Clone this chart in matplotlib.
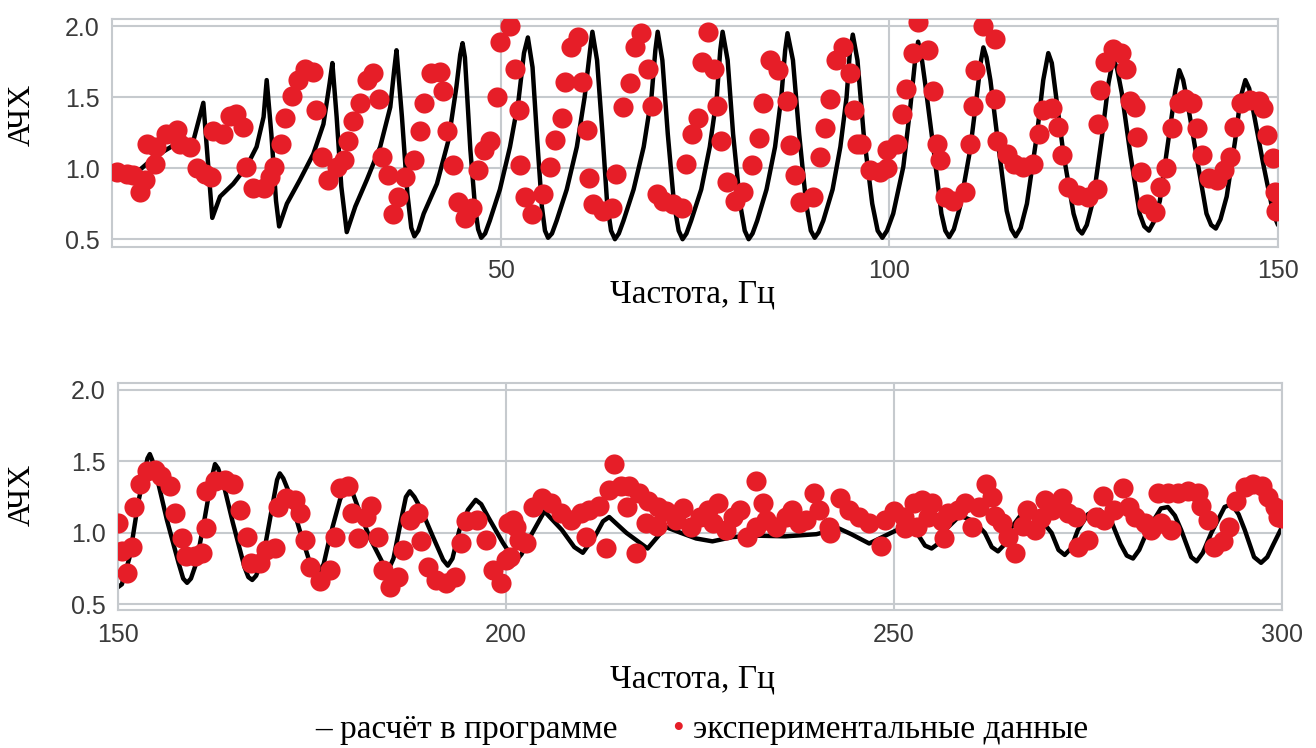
import matplotlib
matplotlib.use("Agg")
import matplotlib.pyplot as plt

# ---------------- data ----------------
# calculated response (black line), 0-150 Hz
line1_x = [0.5, 3.0, 5.5, 8.5, 10.5, 11.75, 12.9,
           13.9, 15.6, 17.3, 18.6, 19.5, 19.9, 20.5, 21.1, 21.5,
           22.5, 24.2, 25.9, 27.2, 28.0, 28.35, 28.9, 29.5, 30.2,
           31.3, 32.8, 34.5, 35.8, 36.3, 36.6, 37.3, 38.0, 38.5, 38.9,
           39.4, 40.1, 41.8, 43.3, 44.3, 44.8, 45.1, 45.4, 46.1, 46.7, 47.1, 47.5,
           48.0, 48.6, 49.9, 51.2, 52.3, 53.0, 53.5, 54.1, 54.7, 55.3, 55.7, 56.1,
           56.6, 57.2, 58.5, 59.8, 60.8, 61.5, 61.8, 62.4, 63.1, 63.7, 64.2, 64.7,
           65.2, 65.8, 67.1, 68.4, 69.4, 69.9, 70.2, 70.8, 71.5, 72.3, 72.9, 73.4,
           73.9, 74.5, 75.8, 76.9, 77.8, 78.25, 78.55, 79.2, 79.9, 80.8, 81.4, 81.9,
           82.4, 83.0, 84.2, 85.3, 86.1, 86.6, 86.9, 87.6, 88.4, 89.3, 89.9, 90.4,
           90.9, 91.5, 92.7, 93.7, 94.5, 94.9, 95.3, 95.9, 96.7, 97.8, 98.5, 99.1,
           99.7, 100.5, 101.8, 102.7, 103.3, 103.7, 104.1, 104.6, 105.7, 106.7, 107.2, 107.7,
           108.3, 109.1, 110.4, 111.3, 111.8, 112.1, 112.5, 113.0, 114.0, 115.1, 115.7, 116.25,
           116.9, 117.7, 119.0, 119.8, 120.45, 120.9, 121.3, 122.4, 123.7, 124.3, 124.8,
           125.4, 126.2, 127.3, 128.2, 128.8, 129.3, 129.9, 131.0, 132.2, 132.8, 133.4,
           134.0, 134.8, 135.9, 136.8, 137.3, 137.8, 138.3, 139.6, 140.8, 141.4, 142.0,
           142.6, 143.4, 144.5, 145.2, 145.8, 146.3, 146.8, 148.1, 149.4, 150.0]
line1_y = [0.97, 0.96, 1.08, 1.18, 1.20, 1.46, 0.65,
           0.80, 0.89, 1.01, 1.15, 1.36, 1.62, 1.24, 0.77, 0.59,
           0.75, 0.92, 1.10, 1.31, 1.60, 1.74, 1.36, 0.87, 0.55,
           0.73, 0.92, 1.15, 1.43, 1.69, 1.83, 1.36, 0.82, 0.58, 0.52,
           0.56, 0.68, 0.89, 1.20, 1.57, 1.80, 1.88, 1.78, 1.13, 0.73, 0.57, 0.51,
           0.54, 0.63, 0.85, 1.15, 1.48, 1.81, 1.92, 1.71, 1.20, 0.73, 0.56, 0.51,
           0.54, 0.63, 0.85, 1.15, 1.50, 1.83, 1.96, 1.76, 1.24, 0.75, 0.56, 0.50,
           0.54, 0.63, 0.85, 1.15, 1.50, 1.83, 1.96, 1.76, 1.24, 0.75, 0.56, 0.50,
           0.54, 0.63, 0.85, 1.15, 1.50, 1.83, 1.96, 1.76, 1.24, 0.75, 0.56, 0.50,
           0.54, 0.63, 0.85, 1.15, 1.50, 1.83, 1.95, 1.76, 1.24, 0.75, 0.56, 0.51,
           0.55, 0.63, 0.85, 1.15, 1.50, 1.80, 1.94, 1.76, 1.24, 0.75, 0.56, 0.51,
           0.56, 0.68, 1.01, 1.43, 1.75, 1.89, 1.80, 1.60, 1.13, 0.68, 0.56, 0.515,
           0.57, 0.73, 1.13, 1.53, 1.76, 1.85, 1.78, 1.62, 1.17, 0.70, 0.57, 0.52,
           0.58, 0.75, 1.24, 1.62, 1.81, 1.74, 1.57, 1.10, 0.68, 0.57, 0.54,
           0.60, 0.77, 1.20, 1.60, 1.77, 1.70, 1.53, 1.10, 0.68, 0.59, 0.56,
           0.62, 0.77, 1.20, 1.55, 1.69, 1.62, 1.48, 1.06, 0.68, 0.60, 0.575,
           0.64, 0.80, 1.20, 1.50, 1.62, 1.56, 1.41, 1.03, 0.68, 0.60]

# experimental data (red dots), 0-150 Hz
dots1_x = [0.6, 1.9, 2.7, 3.6, 4.2, 4.5, 5.5, 5.7, 7.0, 8.3, 8.7, 10.0, 10.9,
           12.0, 12.8, 13.0, 14.3, 15.2, 16.0, 16.9, 17.3, 18.2, 19.5, 20.3,
           20.8, 21.8, 22.3, 23.1, 23.9, 24.8, 25.9, 26.3, 27.0, 27.8, 28.9,
           29.8, 30.4, 31.0, 31.9, 32.8, 33.6, 34.3, 34.7, 35.5, 36.8, 36.2,
           37.7, 38.8, 39.6, 40.1, 41.1, 42.2, 42.6, 43.1, 43.9, 44.5, 45.4,
           46.3, 47.1, 47.8, 48.6, 49.5, 49.9, 51.2, 51.8, 52.3, 52.5, 53.1,
           54.0, 55.5, 56.4, 57.0, 57.9, 58.3, 59.1, 60.0, 60.4, 61.1, 61.3,
           61.9, 63.2, 64.3, 64.9, 65.8, 66.6, 67.3, 68.1, 69.0, 69.5, 70.1,
           70.9, 72.2, 73.3, 73.9, 74.6, 75.4, 75.9, 76.7, 77.4, 77.8, 78.4,
           79.1, 80.2, 81.2, 82.3, 83.2, 83.8, 84.7, 85.7, 86.8, 87.2, 87.9,
           88.5, 90.2, 91.1, 91.7, 92.4, 93.2, 94.1, 95.0, 95.4, 95.8, 96.4,
           97.5, 98.8, 99.7, 99.7, 101.0, 101.6, 102.2, 103.1, 103.7, 105.0,
           105.6, 106.1, 106.5, 107.2, 108.2, 109.7, 110.4, 110.8, 111.0,
           112.1, 113.6, 113.6, 113.8, 115.1, 116.0, 117.2, 118.5, 119.2,
           119.8, 120.9, 121.7, 122.2, 123.0, 124.3, 125.6, 126.7, 126.9,
           127.1, 127.8, 128.8, 129.8, 130.4, 130.9, 131.6, 131.8, 132.4,
           133.1, 134.2, 134.8, 135.6, 136.3, 137.2, 138.1, 138.9, 139.6,
           140.2, 141.1, 142.1, 143.0, 143.8, 144.4, 145.3, 146.4, 147.5,
           148.1, 148.6, 149.4, 149.6, 149.8]
dots1_y = [0.97, 0.96, 0.95, 0.83, 0.92, 1.17, 1.03, 1.15, 1.24, 1.27, 1.17, 1.15, 1.00,
           0.96, 0.94, 1.26, 1.24, 1.37, 1.38, 1.29, 1.01, 0.86, 0.86, 0.94,
           1.01, 1.17, 1.35, 1.51, 1.62, 1.70, 1.68, 1.41, 1.08, 0.92, 1.01,
           1.06, 1.19, 1.33, 1.46, 1.62, 1.67, 1.49, 1.08, 0.95, 0.80, 0.68,
           0.94, 1.06, 1.26, 1.46, 1.67, 1.68, 1.54, 1.26, 1.02, 0.76, 0.65,
           0.72, 0.99, 1.13, 1.19, 1.50, 1.89, 2.00, 1.70, 1.41, 1.02, 0.80,
           0.68, 0.82, 1.01, 1.20, 1.35, 1.61, 1.85, 1.92, 1.61, 1.27, 0.93,
           0.75, 0.70, 0.72, 0.96, 1.43, 1.60, 1.85, 1.95, 1.70, 1.44, 0.82,
           0.77, 0.75, 0.72, 1.03, 1.24, 1.35, 1.75, 1.96, 1.70, 1.44, 1.19,
           0.90, 0.77, 0.83, 1.02, 1.21, 1.46, 1.76, 1.69, 1.47, 1.16, 0.95,
           0.76, 0.80, 1.08, 1.28, 1.49, 1.76, 1.85, 1.67, 1.41, 1.17, 1.17,
           0.99, 0.97, 1.00, 1.13, 1.17, 1.38, 1.56, 1.81, 2.03, 1.83,
           1.54, 1.17, 1.06, 0.80, 0.77, 0.83, 1.17, 1.44, 1.69,
           2.00, 1.91, 1.49, 1.19, 1.10, 1.03, 1.01, 1.03, 1.24,
           1.41, 1.42, 1.29, 1.09, 0.87, 0.81, 0.80, 0.85, 1.31,
           1.55, 1.75, 1.84, 1.81, 1.70, 1.47, 1.43, 1.22, 0.97,
           0.75, 0.69, 0.87, 1.00, 1.28, 1.46, 1.49, 1.46, 1.28,
           1.09, 0.93, 0.92, 0.99, 1.08, 1.29, 1.46, 1.48, 1.47,
           1.42, 1.23, 1.07, 0.83, 0.70]

# calculated response (black line), 150-300 Hz
line2_x = [150.0, 150.5, 151.5, 152.6, 153.5, 153.8, 154.1, 154.4, 155.0, 156.3, 157.8,
           158.4, 158.9, 159.4, 160.1, 161.2, 162.1, 162.5, 162.9, 163.6, 164.8, 166.3,
           166.8, 167.3, 167.8, 168.7, 169.8, 170.5, 170.85, 171.3, 171.9, 173.4, 174.9,
           175.8, 176.5, 177.3, 178.6, 179.2, 179.6, 180.1, 180.9, 182.4, 184.1,
           184.6, 185.0, 185.5, 186.3, 187.1, 187.6, 188.2, 189.1, 190.6, 191.9,
           192.5, 193.1, 194.0, 195.1, 196.1, 196.8, 197.7, 199.6, 200.8,
           201.4, 202.0, 203.2, 204.95, 207.2, 208.8, 209.9, 211.5, 212.5, 213.3,
           215.5, 218.25, 220.6, 222.5, 224.5, 226.6, 229.2, 232.0,
           236.0, 240.0, 242.9, 244.5, 246.8, 248.5, 250.8, 251.8,
           252.7, 254.0, 254.85, 255.6, 256.6, 258.5, 260.3, 261.7, 262.6, 263.4,
           264.1, 264.9, 266.3, 267.5, 268.8, 270.3, 271.2, 272.0, 272.8, 273.7,
           275.0, 276.5, 278.0, 279.2, 280.0, 280.8, 281.6, 282.7, 284.4, 285.3,
           286.2, 287.0, 288.3, 289.0, 289.8, 290.9, 292.6, 293.5, 294.4, 295.2,
           296.4, 297.3, 298.1, 298.9, 300.0]
line2_y = [0.62, 0.64, 0.83, 1.21, 1.44, 1.52, 1.55, 1.51, 1.39, 1.09, 0.79,
           0.68, 0.65, 0.68, 0.79, 1.11, 1.39, 1.48, 1.45, 1.34, 1.07, 0.76,
           0.69, 0.67, 0.70, 0.83, 1.16, 1.37, 1.415, 1.38, 1.30, 1.02, 0.76,
           0.72, 0.78, 0.97, 1.23, 1.31, 1.33, 1.30, 1.18, 0.97, 0.79,
           0.76, 0.76, 0.82, 1.04, 1.25, 1.29, 1.25, 1.16, 0.97, 0.81,
           0.77, 0.82, 1.02, 1.16, 1.23, 1.20, 1.11, 0.93, 0.83,
           0.81, 0.85, 0.98, 1.15, 1.02, 0.90, 0.86, 0.98, 1.08, 1.11,
           1.00, 0.89, 1.04, 1.00, 0.96, 0.94, 0.97, 0.98,
           0.975, 0.99, 1.03, 0.99, 0.925, 0.97, 1.03, 1.08,
           1.02, 0.91, 0.89, 0.92, 1.02, 1.12, 1.08, 1.00, 0.90, 0.87,
           0.91, 1.02, 1.12, 1.14, 1.10, 1.00, 0.88, 0.845, 0.89, 1.02,
           1.13, 1.16, 1.08, 0.92, 0.84, 0.82, 0.88, 1.02, 1.17, 1.18,
           1.12, 1.02, 0.83, 0.80, 0.86, 1.00, 1.18, 1.20, 1.13, 1.02,
           0.83, 0.79, 0.83, 0.92, 1.04]

# experimental data (red dots), 150-300 Hz
dots2_x = [150.0, 150.5, 151.1, 151.8, 152.0, 152.8, 153.7, 154.8, 155.6, 156.7,
           157.3, 158.2, 158.8, 159.9, 160.8, 161.4, 161.4, 162.5, 163.8, 164.8,
           165.7, 166.6, 167.2, 168.3, 169.1, 170.2, 170.6, 171.7, 172.8, 173.4,
           174.1, 174.7, 176.0, 177.3, 177.9, 178.6, 179.6, 180.1, 180.9, 182.0,
           182.6, 183.5, 184.1, 185.0, 186.1, 186.7, 187.6, 188.7, 189.1, 190.0,
           191.0, 192.3, 193.4, 194.2, 194.9, 196.2, 197.4, 198.3, 199.4, 200.0,
           200.2, 201.3, 200.5, 200.9, 201.7, 202.6, 203.5, 204.7, 205.8, 207.1,
           208.4, 209.7, 210.3, 210.7, 212.0, 212.9, 213.3, 213.9, 214.8, 215.9,
           215.6, 216.8, 217.2, 218.3, 218.1, 219.6, 219.5, 220.6, 221.9, 222.8,
           223.9, 225.0, 226.0, 226.7, 227.3, 228.3, 229.2, 230.1, 231.1, 232.2,
           232.2, 233.1, 233.5, 234.8, 236.1, 236.9, 237.8, 238.6, 239.7, 240.3,
           241.6, 241.8, 243.1, 244.2, 245.5, 246.8, 248.3, 248.9, 250.0, 251.3,
           252.6, 253.0, 251.4, 253.6, 254.4, 254.9, 256.2, 256.4, 257.0, 258.3,
           259.2, 260.0, 260.9, 261.8, 262.6, 263.0, 263.9, 264.7, 265.6, 266.6,
           267.1, 268.2, 269.0, 269.4, 270.3, 271.6, 272.4, 273.5, 273.7, 275.0,
           276.0, 276.9, 277.1, 278.4, 279.5, 280.3, 281.0, 282.3, 283.1, 284.0,
           284.4, 285.7, 285.3, 286.6, 287.9, 289.2, 289.6, 290.5, 291.3, 292.4,
           293.2, 294.1, 295.2, 296.3, 297.4, 298.2, 299.1, 299.5, 300.0]
dots2_y = [1.07, 0.87, 0.72, 0.90, 1.18, 1.34, 1.43, 1.44, 1.40, 1.33,
           1.14, 0.96, 0.84, 0.84, 0.86, 1.03, 1.29, 1.36, 1.37, 1.34,
           1.16, 0.97, 0.79, 0.79, 0.88, 0.89, 1.18, 1.24, 1.23, 1.14,
           0.95, 0.76, 0.66, 0.74, 0.97, 1.31, 1.33, 1.14, 0.96, 1.11,
           1.19, 0.97, 0.74, 0.62, 0.69, 0.88, 1.09, 1.14, 0.94, 0.76,
           0.67, 0.65, 0.69, 0.93, 1.08, 1.09, 0.95, 0.74, 0.65, 0.81,
           1.07, 1.04, 0.83, 1.09, 0.95, 0.93, 1.18, 1.24, 1.21, 1.14,
           1.09, 1.14, 0.97, 1.16, 1.19, 0.89, 1.30, 1.48, 1.33, 1.33,
           1.18, 0.86, 1.28, 1.22, 1.07, 1.18, 1.05, 1.15, 1.09, 1.17,
           1.04, 1.11, 1.16, 1.07, 1.21, 1.02, 1.11, 1.16, 0.97, 1.36,
           1.04, 1.21, 1.09, 1.04, 1.11, 1.16, 1.07, 1.09, 1.28, 1.16,
           1.04, 1.00, 1.24, 1.16, 1.11, 1.07, 0.91, 1.09, 1.15, 1.11,
           1.21, 1.04, 1.03, 1.23, 1.11, 1.21, 1.08, 0.96, 1.14, 1.16,
           1.21, 1.04, 1.18, 1.34, 1.25, 1.12, 1.07, 0.97, 0.86, 1.05,
           1.16, 1.02, 1.10, 1.23, 1.16, 1.24, 1.14, 1.11, 0.90, 0.95,
           1.11, 1.26, 1.09, 1.16, 1.31, 1.18, 1.11, 1.07, 1.02, 1.28,
           1.07, 1.02, 1.28, 1.28, 1.29, 1.28, 1.19, 1.09, 0.90, 0.94,
           1.04, 1.22, 1.32, 1.34, 1.33, 1.25, 1.18, 1.11, 1.10]

yticks = [0.5, 1.0, 1.5, 2.0]
xticks_top = [50, 100, 150]
xticks_bottom = [150, 200, 250, 300]

# ---------------- style ----------------
GRID = "#c6cace"
TICKC = "#3a3a3a"
RED = "#e61e28"
SERIF = ["Liberation Serif", "DejaVu Serif"]
SANS = ["Liberation Sans", "DejaVu Sans"]
W, H = 1316, 748

fig = plt.figure(figsize=(13.16, 7.48), dpi=100)
ax1 = fig.add_axes([112 / W, 1 - 247 / H, (1278 - 112) / W, (247 - 19) / H])
ax2 = fig.add_axes([118 / W, 1 - 610 / H, (1282 - 118) / W, (610 - 383) / H])


def style(ax, xlim, ylim, xticks):
    ax.set_xlim(*xlim)
    ax.set_ylim(*ylim)
    ax.set_yticks(yticks)
    ax.set_yticklabels([f"{v:.1f}" for v in yticks])
    ax.set_xticks(xticks)
    ax.set_xticklabels([str(v) for v in xticks])
    ax.grid(True, color=GRID, linewidth=1.5, zorder=0)
    ax.set_axisbelow(True)
    for s in ax.spines.values():
        s.set_color(GRID)
        s.set_linewidth(1.5)
    ax.tick_params(length=0, labelsize=18, colors=TICKC)
    ax.tick_params(axis="y", pad=9)
    ax.tick_params(axis="x", pad=9)
    for lab in ax.get_xticklabels() + ax.get_yticklabels():
        lab.set_family(SANS)


style(ax1, (0, 150), (0.445, 2.05), xticks_top)
style(ax2, (150, 300), (0.46, 2.047), xticks_bottom)

for ax, lx, ly, dx, dy in [(ax1, line1_x, line1_y, dots1_x, dots1_y),
                           (ax2, line2_x, line2_y, dots2_x, dots2_y)]:
    ax.plot(lx, ly, color="black", linewidth=3.2, solid_joinstyle="round",
            solid_capstyle="round", zorder=2)
    ax.plot(dx, dy, linestyle="none", marker="o", markersize=14.5,
            markerfacecolor=RED, markeredgecolor=RED, markeredgewidth=0, zorder=3)

# axis labels
fig.text(22 / W, 1 - 115 / H, "АЧХ", rotation=90, ha="center", va="center",
         fontsize=23, family=SERIF)
fig.text(22 / W, 1 - 495 / H, "АЧХ", rotation=90, ha="center", va="center",
         fontsize=23, family=SERIF)
fig.text(692 / W, 1 - 303 / H, "Частота, Гц", ha="center", va="baseline",
         fontsize=24, family=SERIF)
fig.text(692 / W, 1 - 688 / H, "Частота, Гц", ha="center", va="baseline",
         fontsize=24, family=SERIF)

# legend as text
fig.text(315 / W, 1 - 738 / H, "– расчёт в программе", ha="left", va="baseline",
         fontsize=24, family=SERIF)
fig.text(678 / W, 1 - 738 / H, "•", ha="center", va="baseline",
         fontsize=24, family=SERIF, color=RED)
fig.text(693 / W, 1 - 738 / H, "экспериментальные данные", ha="left", va="baseline",
         fontsize=24, family=SERIF)

fig.savefig("out.png", dpi=100)
